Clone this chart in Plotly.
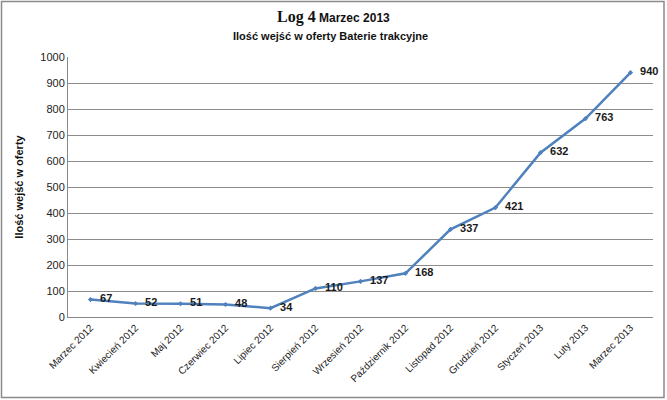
import plotly.graph_objects as go

months = ["Marzec 2012", "Kwiecień 2012", "Maj 2012", "Czerwiec 2012", "Lipiec 2012",
          "Sierpień 2012", "Wrzesień 2012", "Październik 2012", "Listopad 2012",
          "Grudzień 2012", "Styczeń 2013", "Luty 2013", "Marzec 2013"]
visits = [67, 52, 51, 48, 34, 110, 137, 168, 337, 421, 632, 763, 940]
y_ticks = [0, 100, 200, 300, 400, 500, 600, 700, 800, 900, 1000]

W, H = 667, 400
L, R, T, B = 68, 14, 57, 83
pw, ph = W - L - R, H - T - B

def px(x):
    return (x - L) / pw

def py(y):
    return (H - B - y) / ph

fig = go.Figure()
fig.add_trace(go.Scatter(
    x=months, y=visits, mode="lines+markers+text",
    line=dict(color="#4F81BD", width=2.5),
    marker=dict(symbol="diamond", size=4, color="#4F81BD"),
    text=["\u00a0\u00a0" + str(v) for v in visits], textposition="middle right",
    textfont=dict(family="Liberation Sans", size=11, color="#1a1a1a", weight="bold"),
    cliponaxis=False, hoverinfo="x+y",
))

fig.update_layout(
    width=W, height=H,
    margin=dict(l=L, r=R, t=T, b=B),
    paper_bgcolor="white", plot_bgcolor="white",
    showlegend=False,
    font=dict(family="Liberation Sans", color="#222"),
    xaxis=dict(
        type="category", tickangle=-45, showgrid=False,
        showline=True, linecolor="#888", linewidth=1,
        ticks="", tickfont=dict(size=10, color="#222"),
        range=[-0.5, len(months) - 0.5],
    ),
    yaxis=dict(
        range=[0, 1000], tickvals=y_ticks, showgrid=True,
        gridcolor="#8c8c8c", gridwidth=1,
        showline=True, linecolor="#888", linewidth=1,
        ticks="", tickfont=dict(size=11, color="#222"),
        zeroline=False,
        title=dict(text="<b>Ilość wejść w oferty</b>", font=dict(size=11, color="#111"), standoff=14),
    ),
    annotations=[
        dict(text="<span style='font-family:Liberation Serif;font-size:16px'><b>Log 4</b></span> <b>Marzec 2013</b>",
             xref="paper", yref="paper", x=px(333), y=py(17), xanchor="center", yanchor="middle",
             showarrow=False, font=dict(size=12, color="#111")),
        dict(text="<b>Ilość wejść w oferty Baterie trakcyjne</b>",
             xref="paper", yref="paper", x=px(330), y=py(36), xanchor="center", yanchor="middle",
             showarrow=False, font=dict(size=11, color="#111")),
    ],
    shapes=[
        dict(type="rect", xref="paper", yref="paper",
             x0=px(1.5), x1=px(664), y0=py(397.5), y1=py(1.5),
             line=dict(color="#8a8a8a", width=1.5)),
    ],
)

fig.write_html("out.html")
